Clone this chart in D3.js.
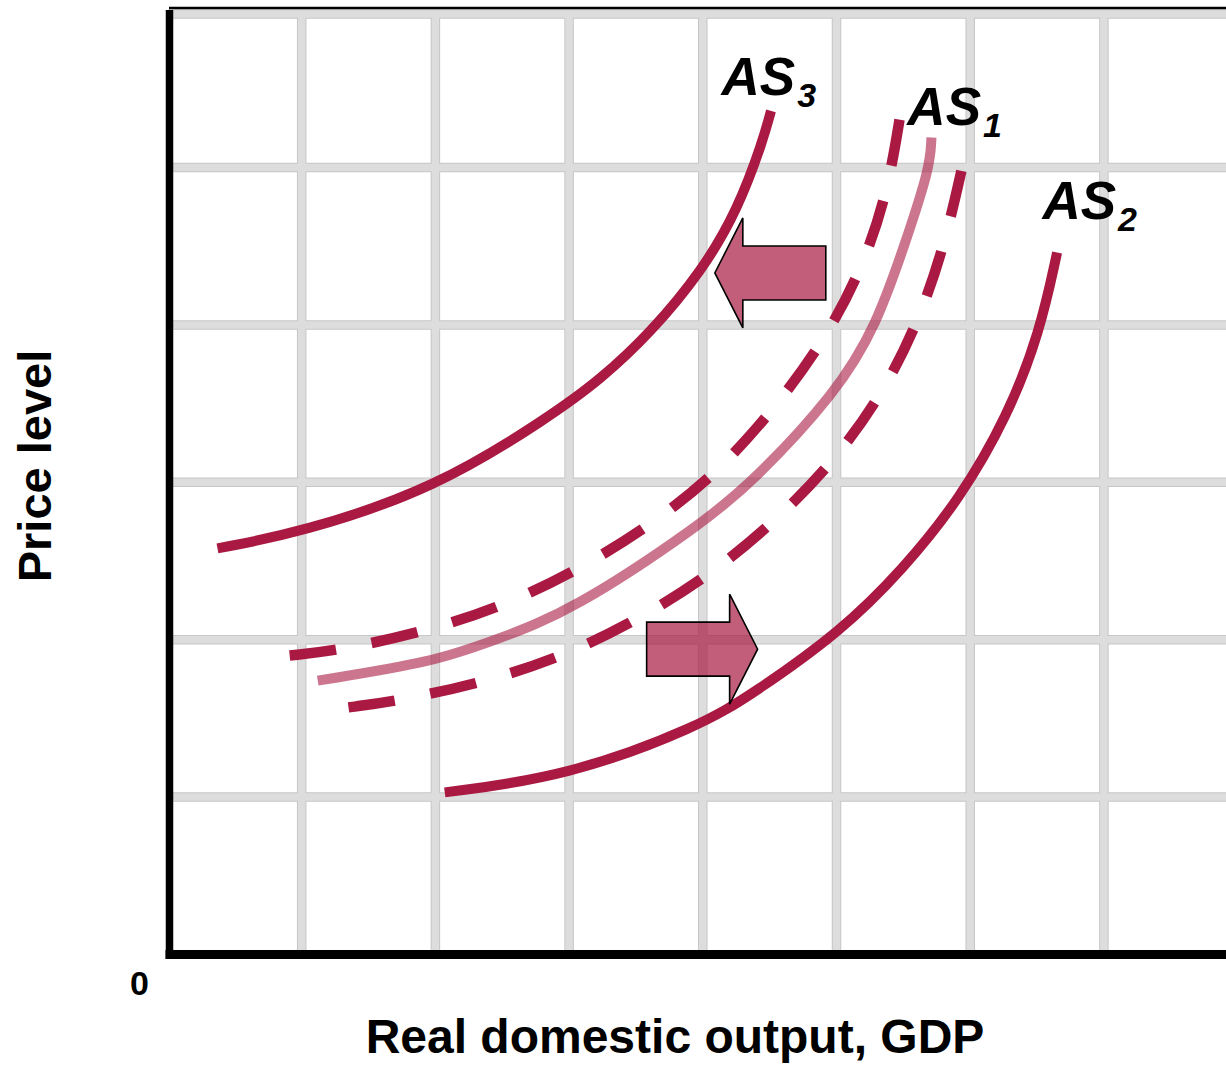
<!DOCTYPE html>
<html>
<head>
<meta charset="utf-8">
<script src="https://cdn.jsdelivr.net/npm/d3@7"></script>
<style>
  html, body { margin: 0; padding: 0; background: #fff; }
  svg { display: block; }
  text { font-family: "Liberation Sans", Arial, sans-serif; font-weight: bold; fill: #000; }
</style>
</head>
<body>
<svg id="chart" width="1226" height="1065"></svg>
<script>
// Grid positions (in grid units) on each axis
const xGrid = [1, 2, 3, 4, 5, 6, 7];
const yGrid = [1, 2, 3, 4, 5];

// Aggregate supply curves, [real output, price level] in grid units
const as3 = [[0.37, 2.58], [0.99, 2.68], [2.00, 2.96], [2.86, 3.42], [3.23, 3.65], [3.61, 3.95], [4.00, 4.35], [4.26, 4.73], [4.45, 5.17], [4.51, 5.36]];
const as1 = [[1.12, 1.74], [2.00, 1.86], [2.45, 2.00], [3.02, 2.18], [4.00, 2.74], [4.37, 3.00], [5.00, 3.57], [5.30, 4.00], [5.51, 4.51], [5.70, 5.00], [5.71, 5.19]];
const as1Upper = [[0.91, 1.90], [1.26, 1.93], [1.87, 2.04], [2.47, 2.20], [3.04, 2.43], [3.58, 2.71], [4.07, 3.03], [4.49, 3.42], [4.88, 3.86], [5.18, 4.33], [5.38, 4.83], [5.48, 5.35]];
const as1Lower = [[1.35, 1.57], [1.71, 1.61], [2.32, 1.72], [2.92, 1.88], [3.48, 2.11], [4.02, 2.39], [4.50, 2.72], [4.95, 3.10], [5.33, 3.54], [5.61, 4.01], [5.81, 4.51], [5.95, 5.04]];
const as2 = [[2.07, 1.03], [2.98, 1.13], [3.98, 1.45], [4.38, 1.66], [5.03, 2.05], [5.50, 2.45], [5.92, 2.89], [6.28, 3.42], [6.52, 3.95], [6.65, 4.46]];

// Shift arrows: tail x, tip x, level y (grid units)
const shiftArrows = [
  { from: 4.92, to: 4.09, y: 4.33 },
  { from: 3.58, to: 4.41, y: 1.94 }
];

// Curve labels: main text, subscript, position of the label (grid units)
const curveLabels = [
  { main: "AS", sub: "3", x: 4.14, y: 5.46 },
  { main: "AS", sub: "1", x: 5.53, y: 5.27 },
  { main: "AS", sub: "2", x: 6.54, y: 4.67 }
];

const xTitle = "Real domestic output, GDP";
const yTitle = "Price level";
const originLabel = "0";

const svg = d3.select("#chart");
const W = 1226;
const x = d3.scaleLinear().domain([0, 8]).range([168, 168 + 8 * 133.7]);
const y = d3.scaleLinear().domain([0, 6]).range([954.5, 954.5 - 6 * 157.4]);

const RED = "#a91942";

// Grid: wide gray bands with slightly darker edges
const grid = svg.append("g");
const gridTop = y(6) + 1;
const gridBottom = y(0);
function gridLines(width, color) {
  const g = grid.append("g").attr("stroke", color).attr("stroke-width", width);
  g.selectAll("line.v").data(xGrid).join("line")
    .attr("x1", d => x(d)).attr("x2", d => x(d))
    .attr("y1", gridTop).attr("y2", gridBottom);
  g.selectAll("line.h").data(yGrid).join("line")
    .attr("x1", x(0)).attr("x2", W)
    .attr("y1", d => y(d)).attr("y2", d => y(d));
  g.append("line").attr("x1", x(0)).attr("x2", W)
    .attr("y1", y(6) + 4).attr("y2", y(6) + 4);
}
gridLines(9.5, "#c6c6c6");
gridLines(7.5, "#dddddd");

// Axes frame
svg.append("line").attr("x1", x(0) + 1).attr("x2", W)
  .attr("y1", y(6) - 2).attr("y2", y(6) - 2)
  .attr("stroke", "#000").attr("stroke-width", 2.5);
svg.append("line").attr("x1", x(0) + 1.5).attr("x2", x(0) + 1.5)
  .attr("y1", y(6)).attr("y2", y(0) + 4.5)
  .attr("stroke", "#000").attr("stroke-width", 7.5);
svg.append("line").attr("x1", x(0) - 2.5).attr("x2", W)
  .attr("y1", y(0)).attr("y2", y(0))
  .attr("stroke", "#000").attr("stroke-width", 9);

// Curves, smoothed through the sampled points
const line = d3.line().x(d => x(d[0])).y(d => y(d[1])).curve(d3.curveBasis);
const curves = svg.append("g").attr("fill", "none").attr("stroke-linecap", "butt");
curves.append("path").attr("d", line(as3))
  .attr("stroke", RED).attr("stroke-width", 10);
curves.append("path").attr("d", line(as1Upper))
  .attr("stroke", RED).attr("stroke-width", 10.5).attr("stroke-dasharray", "47 36");
curves.append("path").attr("d", line(as1))
  .attr("stroke", RED).attr("stroke-opacity", 0.6).attr("stroke-width", 10);
curves.append("path").attr("d", line(as1Lower))
  .attr("stroke", RED).attr("stroke-width", 10.5).attr("stroke-dasharray", "47 36");
curves.append("path").attr("d", line(as2))
  .attr("stroke", RED).attr("stroke-width", 10);

// Block arrows showing the shifts
const bodyHalf = 27, headHalf = 55, headLen = 28;
function arrowPath(a) {
  const x0 = x(a.from), x1 = x(a.to), yc = y(a.y);
  const dir = x1 > x0 ? 1 : -1;
  const xb = x1 - dir * headLen;
  return d3.line()([
    [x0, yc - bodyHalf], [xb, yc - bodyHalf], [xb, yc - headHalf],
    [x1, yc], [xb, yc + headHalf], [xb, yc + bodyHalf], [x0, yc + bodyHalf]
  ]) + "Z";
}
svg.append("g").selectAll("path").data(shiftArrows).join("path")
  .attr("d", arrowPath)
  .attr("fill", RED).attr("fill-opacity", 0.7)
  .attr("stroke", "#000").attr("stroke-width", 1.6)
  .attr("stroke-linejoin", "miter");

// Curve labels with subscripts
const lbl = svg.append("g").selectAll("text").data(curveLabels).join("text")
  .attr("x", d => x(d.x)).attr("y", d => y(d.y))
  .attr("font-size", 53).attr("font-style", "italic");
lbl.append("tspan").text(d => d.main);
lbl.append("tspan").attr("dx", 2).attr("dy", 12).attr("font-size", 34).text(d => d.sub);

// Axis titles and origin
svg.append("text").attr("x", 675).attr("y", 1053)
  .attr("text-anchor", "middle").attr("font-size", 48).text(xTitle);
svg.append("text").attr("transform", "translate(51,466) rotate(-90)")
  .attr("text-anchor", "middle").attr("font-size", 47).text(yTitle);
svg.append("text").attr("x", 139.5).attr("y", 995)
  .attr("text-anchor", "middle").attr("font-size", 34).text(originLabel);
</script>
</body>
</html>
